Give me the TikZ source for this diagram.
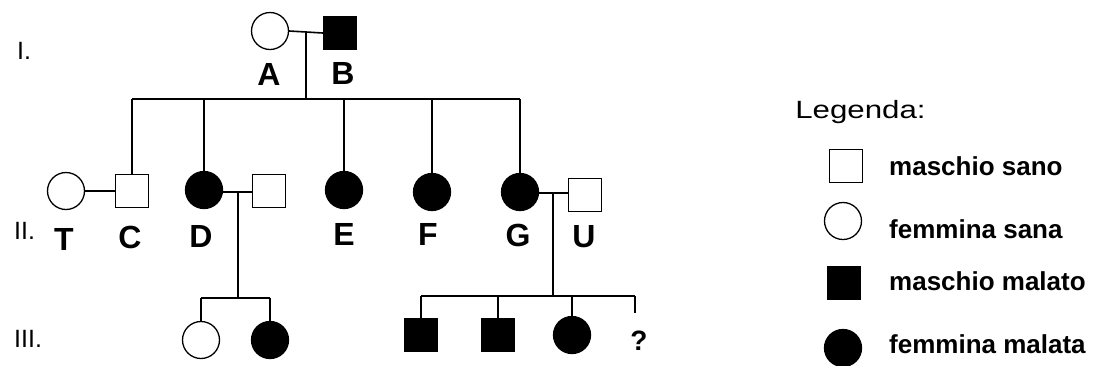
\documentclass[tikz,border=0pt]{standalone}
\usepackage{fontspec}
\setmainfont{Liberation Sans}
\begin{document}
\begin{tikzpicture}[x=1pt,y=-1pt,
  female/.style={circle,draw,minimum size=37pt,inner sep=0pt,line width=1.3pt},
  male/.style={rectangle,draw,minimum size=33pt,inner sep=0pt,line width=1.3pt},
  ill/.style={fill=black},
  lbl/.style={font=\fontsize{32}{32}\bfseries\selectfont,inner sep=0pt,anchor=base},
  gen/.style={font=\fontsize{25}{25}\selectfont,inner sep=0pt,anchor=base west},
  leg/.style={font=\fontsize{26}{26}\bfseries\selectfont,anchor=base west,inner sep=0pt},
  link/.style={line width=1.6pt}]
\useasboundingbox (0,0) rectangle (1094,365);

% generation numbers
\node[gen] (g1) at (17,59) {I.};
\node[gen] (g2) at (14,239) {II.};
\node[gen] (g3) at (14,347) {III.};

% generation I
\node[female] (A) at (270,31) {};
\node[male,ill] (B) at (340,33) {};
\node[lbl] (lA) at (269,85) {A};
\node[lbl] (lB) at (343,84) {B};

% generation II
\node[female] (T) at (66,191) {};
\node[male] (C) at (132,191) {};
\node[female,ill] (D) at (204,190) {};
\node[male] (H) at (269,191) {};
\node[female,ill] (E) at (344,190) {};
\node[female,ill] (F) at (432,192) {};
\node[female,ill] (G) at (520,192) {};
\node[male] (U) at (585,195) {};
\node[lbl] (lT) at (64,250) {T};
\node[lbl] (lC) at (130,248) {C};
\node[lbl] (lD) at (201,247) {D};
\node[lbl] (lE) at (344,245) {E};
\node[lbl] (lF) at (428,245) {F};
\node[lbl] (lG) at (518,246) {G};
\node[lbl] (lU) at (584,247) {U};

% generation III
\node[female] (D1) at (201,340) {};
\node[female,ill] (D2) at (270,340) {};
\node[male,ill] (G1) at (421,335) {};
\node[male,ill] (G2) at (498,335) {};
\node[female,ill] (G3) at (572,335) {};
\node[lbl,font=\fontsize{28}{28}\bfseries\selectfont] (G4) at (639,350) {?};

% connectors
\coordinate (ab) at (306,33);
\coordinate (sib) at (306,99);
\draw[link] (A.east) -- (B.west);
\draw[link] (ab) -- (sib);
\draw[link] (C.north |- sib) -- (G.north |- sib);
\foreach \k in {C,D,E,F,G} \draw[link] (\k.north |- sib) -- (\k.north);
\draw[link] (T.east) -- (C.west);

\coordinate (dh) at (238,192);
\coordinate (dsib) at (238,298);
\draw[link] (D.east |- dh) -- (H.west |- dh);
\draw[link] (dh) -- (dsib);
\draw[link] (D1.north |- dsib) -- (D2.north |- dsib);
\draw[link] (D1.north |- dsib) -- (D1.north);
\draw[link] (D2.north |- dsib) -- (D2.north);

\coordinate (gu) at (553,193);
\coordinate (gsib) at (553,296);
\coordinate (qtop) at (635,313);
\draw[link] (G.east |- gu) -- (U.west |- gu);
\draw[link] (gu) -- (gsib);
\draw[link] (G1.north |- gsib) -- (qtop |- gsib);
\foreach \k in {G1,G2,G3} \draw[link] (\k.north |- gsib) -- (\k.north);
\draw[link] (qtop |- gsib) -- (qtop);

% legend
\node[font=\fontsize{25}{25}\selectfont,anchor=base west,inner sep=0pt,xscale=1.25] (leg) at (795,118) {Legenda:};
\node[male] (k1) at (846,166) {};
\node[female] (k2) at (843,221) {};
\node[male,ill] (k3) at (844,283) {};
\node[female,ill] (k4) at (843,348) {};
\node[leg] (t1) at (889,175) {maschio sano};
\node[leg] (t2) at (889,238) {femmina sana};
\node[leg] (t3) at (889,290) {maschio malato};
\node[leg] (t4) at (889,353) {femmina malata};
\end{tikzpicture}
\end{document}
